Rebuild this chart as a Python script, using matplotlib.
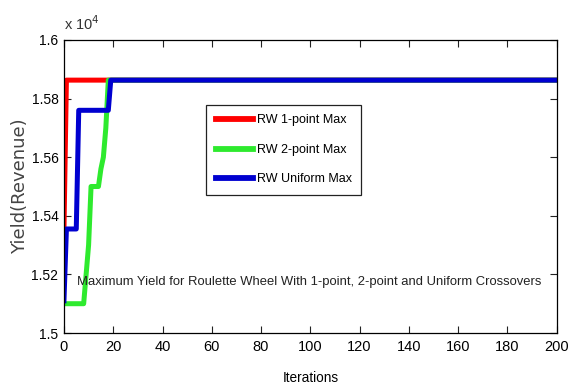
import matplotlib
matplotlib.use("Agg")
import matplotlib.pyplot as plt
from matplotlib.ticker import FuncFormatter

# best-so-far yield per generation (breakpoints, held flat to the last iteration)
rw1_iter = [0, 1, 200]
rw1_yield = [15350, 15863, 15863]

rw2_iter = [0, 8, 9, 10, 11, 14, 15, 16, 17, 18, 200]
rw2_yield = [15100, 15100, 15200, 15300, 15500, 15500, 15560, 15600, 15700, 15863, 15863]

rwu_iter = [0, 1, 5, 6, 18, 19, 200]
rwu_yield = [15110, 15355, 15355, 15760, 15760, 15863, 15863]

labels = ["RW 1-point Max", "RW 2-point Max", "RW Uniform Max"]
title_txt = "Maximum Yield for Roulette Wheel With 1-point, 2-point and Uniform Crossovers"

plt.rcParams['font.family'] = ['Liberation Sans', 'DejaVu Sans']

fig = plt.figure(figsize=(5.71, 3.92), dpi=100)
ax = fig.add_axes([0.112, 0.1505, 0.863, 0.7475])

ax.plot(rw1_iter, rw1_yield, color='#ff0000', lw=3.6, label=labels[0])
ax.plot(rw2_iter, rw2_yield, color='#2eea2e', lw=3.6, label=labels[1])
ax.plot(rwu_iter, rwu_yield, color='#0000d0', lw=3.6, label=labels[2])

ax.set_xlim(0, 200)
ax.set_ylim(15000, 16000)
ax.set_xticks(range(0, 201, 20))
ax.set_yticks([15000, 15200, 15400, 15600, 15800, 16000])
ax.yaxis.set_major_formatter(FuncFormatter(lambda v, p: "%g" % (v / 1e4)))
ax.tick_params(direction='in', length=5, top=True, right=True,
               labeltop=False, labelright=False, color='#222222')
ax.tick_params(axis='x', labelsize=10.5, pad=5)
ax.tick_params(axis='y', labelsize=10, pad=4)
for s in ax.spines.values():
    s.set_linewidth(0.9)

ax.text(0.0, 1.025, r"x 10$^4$", transform=ax.transAxes, fontsize=10.5,
        va='bottom', color='#333333')
ax.set_xlabel("Iterations", fontsize=9.8, labelpad=12)
ax.set_ylabel("Yield(Revenue)", fontsize=13, family='DejaVu Sans',
              color='#444444', labelpad=2)

ax.text(5.2, 15174, title_txt, fontsize=9.4, va='center', ha='left', color='#222222')

leg = ax.legend(loc='upper left', bbox_to_anchor=(0.289, 0.778), borderaxespad=0,
                fontsize=9, fancybox=False, framealpha=1, edgecolor='#222222',
                borderpad=0.75, handlelength=3.0, labelspacing=1.4, handletextpad=0.3)
leg.get_frame().set_linewidth(0.9)
for h in leg.get_lines():
    h.set_linewidth(4.2)

fig.savefig("out.png", dpi=100)
